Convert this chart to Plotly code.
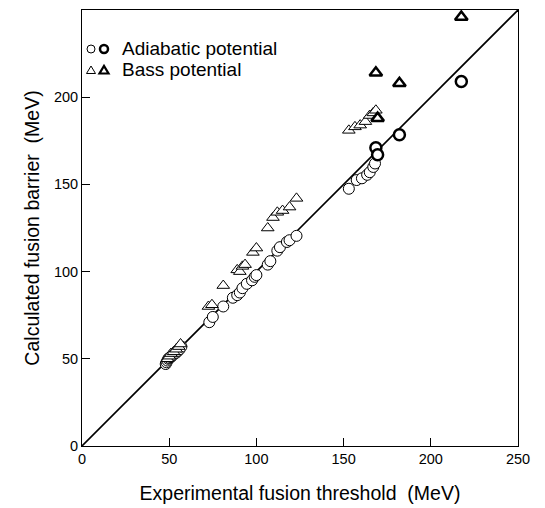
import plotly.graph_objects as go

# Adiabatic potential (thin circles)
adi_x = [48, 48.5, 49, 49.5, 50, 51, 52, 53, 54, 55, 56, 57,
         73, 75, 81, 86.5, 89, 90.5, 92, 94.5, 97.5, 99, 100, 106.5, 108, 112, 113.5, 117.5, 119, 123,
         153, 157.5, 160.5, 163.5, 165, 167, 168]
adi_y = [47, 48, 49, 50, 50.5, 51, 52, 53, 53.5, 54.5, 55.5, 57,
         71, 74, 80, 85, 86.5, 88, 90.5, 93, 95, 97, 98, 104, 106, 112, 114, 117, 118, 120.5,
         147.5, 152.5, 153.5, 155.5, 157, 160, 162]
# Adiabatic potential (bold circles)
adib_x = [168.5, 169.5, 182, 217.5]
adib_y = [171, 167, 178.5, 209]

# Bass potential (thin triangles)
bass_x = [49, 50, 51, 52.5, 54, 55.5, 56.5,
          72.5, 74.5, 81, 89, 90.5, 92, 93.5, 98, 100, 106.5, 109.5, 112, 115, 119, 123,
          153, 156.5, 159.5, 162.5, 165, 167, 168.5]
bass_y = [50, 51.5, 53, 54, 55.5, 57, 58.5,
          80, 81, 92, 101, 100, 103, 104, 111, 113.5, 125, 131, 134, 135, 137, 142,
          181, 183, 184, 186, 189.5, 191, 192.5]
# Bass potential (bold triangles)
bassb_x = [168.5, 169.5, 182, 217.5]
bassb_y = [214, 188, 208, 246]

ticks = [0, 50, 100, 150, 200, 250]
diag = [0, 250]

fig = go.Figure()
fig.add_trace(go.Scatter(x=diag, y=diag, mode="lines",
                         line=dict(color="black", width=1.6), showlegend=False))
fig.add_trace(go.Scatter(x=adi_x, y=adi_y, mode="markers",
                         marker=dict(symbol="circle", size=11, color="white",
                                     line=dict(color="black", width=1)), showlegend=False))
fig.add_trace(go.Scatter(x=bass_x, y=bass_y, mode="markers",
                         marker=dict(symbol="triangle-up", size=11, color="white",
                                     line=dict(color="black", width=1)), showlegend=False))
fig.add_trace(go.Scatter(x=adib_x, y=adib_y, mode="markers",
                         marker=dict(symbol="circle", size=11, color="white",
                                     line=dict(color="black", width=2.5)), showlegend=False))
fig.add_trace(go.Scatter(x=bassb_x, y=bassb_y, mode="markers",
                         marker=dict(symbol="triangle-up", size=11, color="white",
                                     line=dict(color="black", width=2.5)), showlegend=False))

font = "Liberation Sans, Arial, sans-serif"
W = 436.0
def px(x):
    return (x - 82) / W
def py(y):
    return (446 - y) / W

shapes = []
r = 4.0
for cx, lw in [(91, 1), (104, 2.5)]:
    shapes.append(dict(type="circle", xref="paper", yref="paper",
                       x0=px(cx - r), x1=px(cx + r), y0=py(49 + r), y1=py(49 - r),
                       line=dict(color="black", width=lw), fillcolor="white"))
for cx, lw in [(91, 1), (104, 2.2)]:
    p = "M {} {} L {} {} L {} {} Z".format(px(cx - 4.5), py(73.5), px(cx + 4.5), py(73.5), px(cx), py(66))
    shapes.append(dict(type="path", xref="paper", yref="paper", path=p,
                       line=dict(color="black", width=lw), fillcolor="white"))

annotations = [
    dict(text="Adiabatic potential", xref="paper", yref="paper", x=px(120), y=py(49),
         xanchor="left", yanchor="middle", showarrow=False, font=dict(size=19, color="black", family=font)),
    dict(text="Bass potential", xref="paper", yref="paper", x=px(120), y=py(70),
         xanchor="left", yanchor="middle", showarrow=False, font=dict(size=19, color="black", family=font)),
]

axis_common = dict(range=[0, 250], tickvals=ticks, ticks="inside", ticklen=8, tickwidth=1,
                   tickcolor="black", showline=True, linecolor="black", linewidth=1,
                   mirror=True, showgrid=False, zeroline=False, automargin=False,
                   tickfont=dict(size=14.5, color="black", family=font))

# page body has an 8px default margin; offset layout accordingly
fig.update_layout(
    width=537, height=500,
    margin=dict(l=74, r=27, t=2, b=62),
    plot_bgcolor="white", paper_bgcolor="white",
    xaxis=dict(**axis_common, title=dict(text="Experimental fusion threshold  (MeV)",
                                         font=dict(size=19.5, color="black", family=font), standoff=19)),
    yaxis=dict(**axis_common, title=dict(text="Calculated fusion barrier  (MeV)",
                                         font=dict(size=19.5, color="black", family=font), standoff=9)),
    shapes=shapes, annotations=annotations, showlegend=False,
)

fig.write_html("out.html")
